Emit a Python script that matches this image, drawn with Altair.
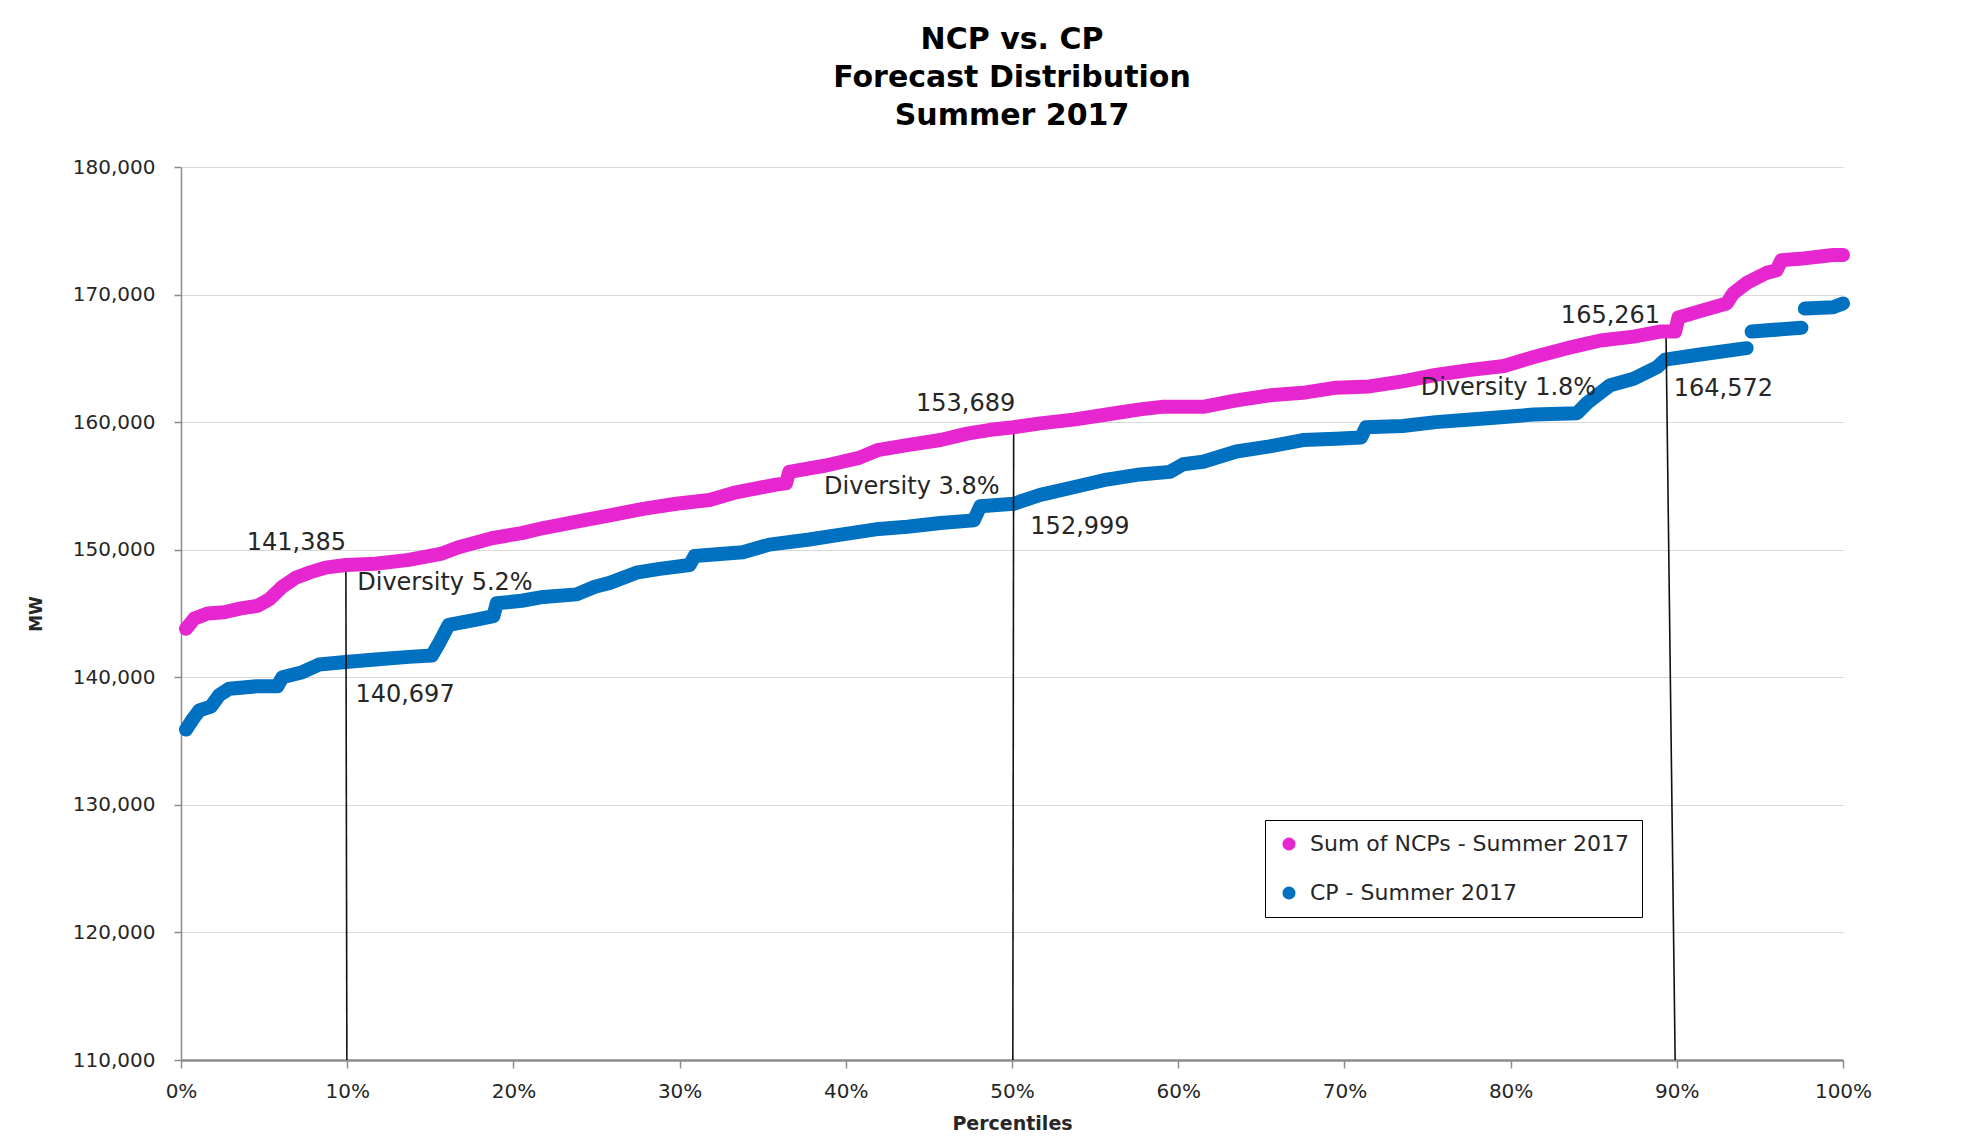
import altair as alt
import pandas as pd

# ---------------- data ----------------
title_lines = ["NCP vs. CP", "Forecast Distribution", "Summer 2017"]
series_names = ["Sum of NCPs - Summer 2017", "CP - Summer 2017"]
series_colors = ["#E627CF", "#0070C0"]

# Sum of NCPs (percentile %, MW)
ncp_pct = [0.3, 0.8, 1.6, 2.6, 3.6, 4.6, 5.3, 6.1, 6.9, 7.7, 8.7, 9.9, 11.7, 13.7,
           15.7, 16.7, 18.7, 20.5, 21.8, 23.8, 25.8, 27.8, 29.8, 31.8, 33.4, 35.8,
           36.4, 36.6, 38.8, 40.8, 41.9, 43.7, 45.7, 47.3, 48.7, 50.1, 51.7, 53.7,
           55.7, 57.7, 59.0, 61.5, 63.5, 65.5, 67.5, 69.5, 71.5, 73.5, 75.5, 77.6,
           79.6, 81.4, 83.4, 85.4, 87.4, 89.0, 89.9, 90.1, 91.4, 93.0, 93.4, 94.2,
           95.4, 96.0, 96.3, 97.4, 99.4, 100.0]
ncp_mw = [143800, 144600, 145000, 145100, 145400, 145600, 146100, 147100, 147800,
          148200, 148600, 148800, 148900, 149200, 149700, 150200, 150900, 151300,
          151700, 152200, 152700, 153200, 153600, 153900, 154500, 155100, 155200,
          156100, 156600, 157200, 157800, 158200, 158600, 159100, 159400, 159600,
          159900, 160200, 160600, 161000, 161200, 161200, 161700, 162100, 162300,
          162700, 162800, 163200, 163700, 164100, 164400, 165100, 165800, 166400,
          166700, 167100, 167100, 168200, 168700, 169300, 170100, 170900, 171700,
          171900, 172700, 172800, 173100, 173100]

# CP (percentile %, MW)
cp_pct = [0.3, 0.7, 1.1, 1.8, 2.3, 2.9, 4.6, 5.8, 6.1, 7.3, 8.3, 9.9, 11.7, 13.7,
          15.1, 15.5, 16.1, 17.7, 18.8, 19.0, 20.5, 21.8, 23.8, 24.9, 25.8, 27.4,
          28.8, 30.6, 30.9, 33.8, 35.4, 37.8, 39.8, 41.8, 43.7, 45.7, 47.7, 48.1,
          50.1, 51.7, 53.7, 55.7, 57.7, 59.5, 60.3, 61.5, 63.5, 65.5, 67.5, 69.5,
          71.0, 71.3, 73.5, 75.5, 77.6, 79.6, 81.4, 84.0, 84.6, 85.4, 86.0, 87.4,
          88.8, 89.3, 91.4, 94.2, 94.5, 97.5, 97.7, 99.4, 100.0]
cp_mw = [135900, 136700, 137400, 137700, 138600, 139100, 139300, 139300, 140000,
         140400, 141000, 141200, 141400, 141600, 141700, 142600, 144100, 144500,
         144800, 145800, 146000, 146300, 146500, 147100, 147400, 148200, 148500,
         148800, 149500, 149800, 150400, 150800, 151200, 151600, 151800, 152100,
         152300, 153400, 153600, 154300, 154900, 155500, 155900, 156100, 156700,
         156900, 157700, 158100, 158600, 158700, 158800, 159600, 159700, 160000,
         160200, 160400, 160600, 160700, 161500, 162300, 162900, 163400, 164300,
         164900, 165300, 165800, 167100, 167400, 168900, 169000, 169300]
cp_seg = [1] * 66 + [2] * 2 + [3] * 3

y_ticks = [110000, 120000, 130000, 140000, 150000, 160000, 170000, 180000]
x_ticks = [0, 10, 20, 30, 40, 50, 60, 70, 80, 90, 100]

# percentile marker lines (10th, 50th, 90th)
marker_pct_top = [9.92, 50.1, 89.35]
marker_pct_bottom = [9.98, 50.05, 89.9]
marker_mw_top = [148800, 159600, 167100]
marker_mw_bottom = [110000, 110000, 110000]

annot_text = ["141,385", "Diversity 5.2%", "140,697", "153,689", "Diversity 3.8%",
              "152,999", "165,261", "Diversity 1.8%", "164,572"]
annot_pct = [6.94, 15.88, 13.48, 47.21, 43.97, 54.09, 86.01, 79.87, 92.80]
annot_mw = [150500, 147370, 138610, 161410, 154940, 151770, 168300, 162680, 162580]

# ---------------- tables ----------------
df_ncp = pd.DataFrame({"pct": ncp_pct, "mw": ncp_mw, "series": series_names[0], "seg": 1})
df_cp = pd.DataFrame({"pct": cp_pct, "mw": cp_mw, "series": series_names[1], "seg": cp_seg})
df_rules = pd.DataFrame({"pct": marker_pct_top, "pb": marker_pct_bottom,
                         "mw": marker_mw_top, "mb": marker_mw_bottom})
df_text = pd.DataFrame({"label": annot_text, "pct": annot_pct, "mw": annot_mw})

FONT = "DejaVu Sans"
AXIS_GREY = "#8C8C8C"
TEXT_COL = "#262626"

x_axis = alt.Axis(
    values=x_ticks, labelExpr="datum.value + '%'", grid=False,
    domainColor=AXIS_GREY, domainWidth=2.5, tickColor=AXIS_GREY, tickWidth=1.5,
    tickSize=8, labelFont=FONT, labelFontSize=20, labelColor=TEXT_COL,
    labelPadding=13, labelFlush=False, labelOverlap=False,
    title="Percentiles", titleFont=FONT, titleFontSize=19, titleFontWeight="bold",
    titleColor=TEXT_COL, titleX=831, titleY=63, titleBaseline="middle",
    titleAlign="center",
)
y_axis = alt.Axis(
    values=y_ticks, labelExpr="format(datum.value, ',')", grid=True,
    gridColor="#D9D9D9", gridWidth=1.2,
    domainColor=AXIS_GREY, domainWidth=1.5, tickColor=AXIS_GREY, tickWidth=1.5,
    tickSize=7, labelFont=FONT, labelFontSize=20, labelColor=TEXT_COL,
    labelPadding=19, labelOverlap=False,
    title="MW", titleFont=FONT, titleFontSize=17, titleFontWeight="bold",
    titleColor=TEXT_COL, titleX=-145, titleY=446.5, titleAngle=270,
    titleBaseline="middle", titleAlign="center",
)
x_scale = alt.Scale(domain=[0, 100], nice=False, zero=False)
y_scale = alt.Scale(domain=[110000, 180000], nice=False, zero=False)

x_enc = alt.X("pct:Q", scale=x_scale, axis=x_axis)
y_enc = alt.Y("mw:Q", scale=y_scale, axis=y_axis)

legend = alt.Legend(
    title=None, orient="none", legendX=1084, legendY=653, direction="vertical",
    strokeColor="black", fillColor="white", padding=13,
    symbolType="circle", symbolSize=170, symbolStrokeWidth=0,
    labelFontSize=22, labelFont=FONT, labelColor=TEXT_COL,
    rowPadding=27, labelOffset=10, labelLimit=500,
)
dot_color = alt.Color("series:N", scale=alt.Scale(domain=series_names, range=series_colors),
                      legend=legend)

line_props = dict(strokeWidth=14, strokeCap="round", strokeJoin="round")

# lines carry a fixed colour (no encoding) so the only colour legend is the dots' one
cp_line = alt.Chart(df_cp).mark_line(color=series_colors[1], **line_props).encode(
    x=x_enc, y=y_enc, detail="seg:O", order="pct:Q")
cp_pts = alt.Chart(df_cp).mark_circle(size=154, opacity=1).encode(
    x=x_enc, y=y_enc, color=dot_color)

rules = alt.Chart(df_rules).mark_rule(color="#111111", strokeWidth=1.6).encode(
    x=x_enc, x2="pb:Q", y=y_enc, y2="mb:Q")

ncp_line = alt.Chart(df_ncp).mark_line(color=series_colors[0], **line_props).encode(
    x=x_enc, y=y_enc, detail="seg:O", order="pct:Q")
ncp_pts = alt.Chart(df_ncp).mark_circle(size=154, opacity=1).encode(
    x=x_enc, y=y_enc, color=dot_color)

texts = alt.Chart(df_text).mark_text(
    font=FONT, fontSize=24, color=TEXT_COL, align="center", baseline="middle"
).encode(x=x_enc, y=y_enc, text="label:N")

chart = alt.layer(cp_line, cp_pts, rules, ncp_line, ncp_pts, texts).properties(
    width=1662,
    height=893,
    autosize=alt.AutoSizeParams(type="none"),
    padding={"left": 173, "top": 159, "right": 110, "bottom": 75},
    title=alt.TitleParams(
        text=title_lines, font=FONT, fontSize=30, fontWeight="bold",
        lineHeight=38, anchor="middle", offset=26, color="black",
    ),
    background="white",
).configure_view(strokeWidth=0)

chart.save("out.html", embed_options={"renderer": "svg", "actions": False})
